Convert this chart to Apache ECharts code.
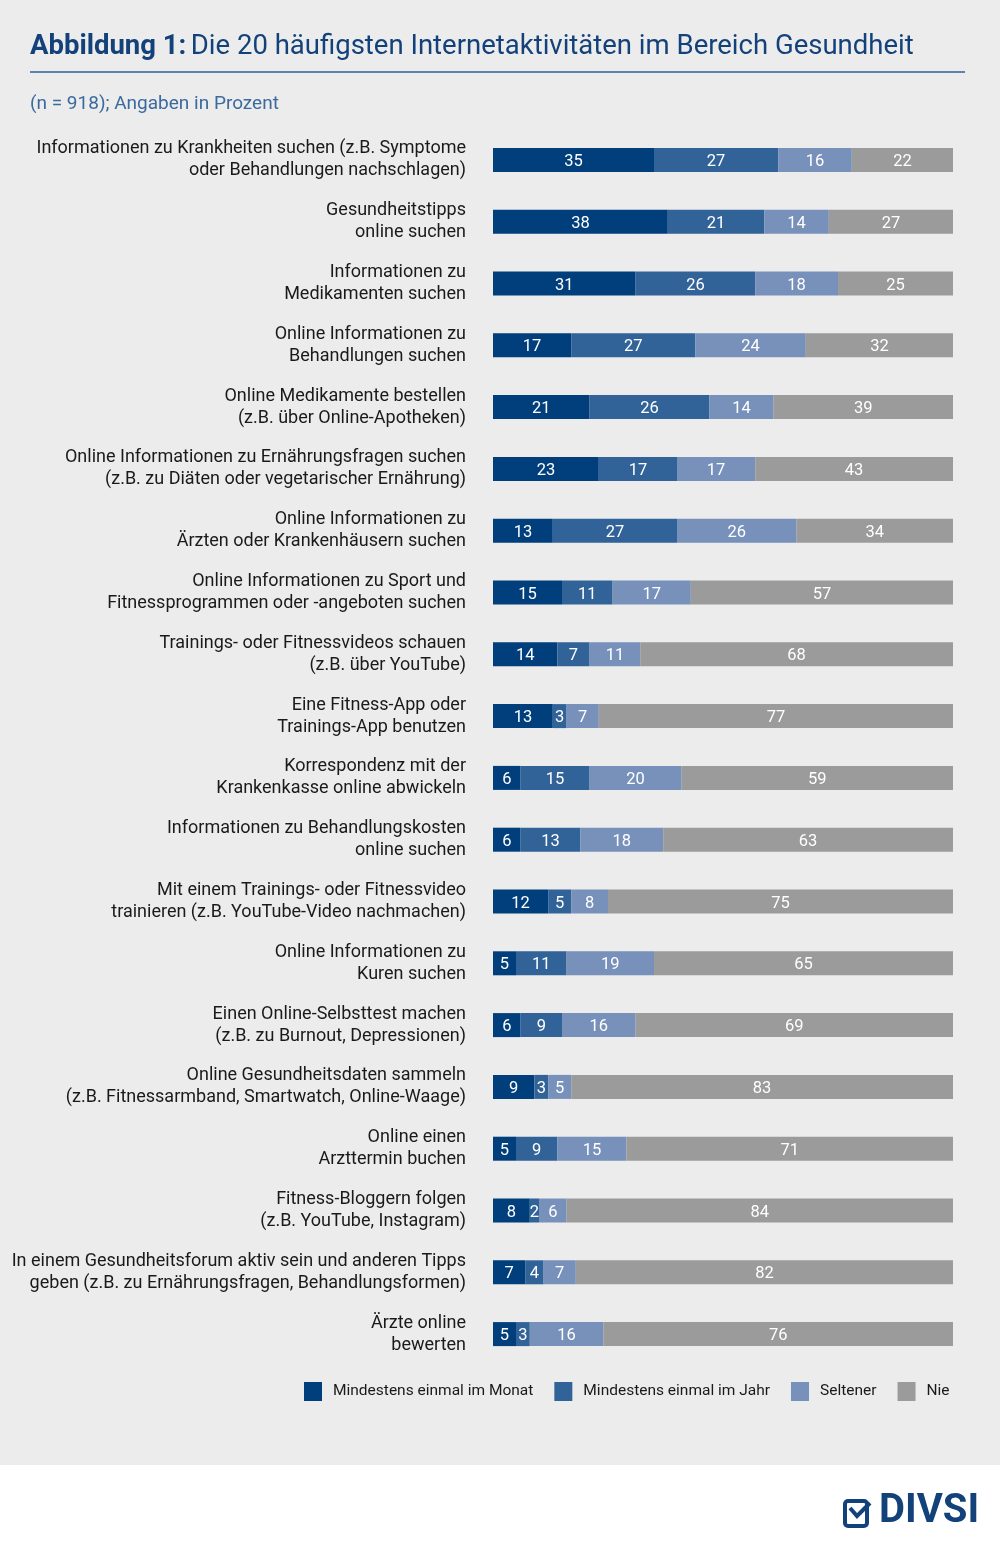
<!DOCTYPE html>
<html>
<head>
<meta charset="utf-8">
<script src="https://cdn.jsdelivr.net/npm/echarts@6/dist/echarts.min.js"></script>
<style>
html, body { margin: 0; padding: 0; background: #fff; }
#chart { width: 1000px; height: 1548px; }
</style>
</head>
<body>
<div id="chart"></div>
<script>
var kategorien = [
    'Informationen zu Krankheiten suchen (z.B. Symptome\noder Behandlungen nachschlagen)',
    'Gesundheitstipps\nonline suchen',
    'Informationen zu\nMedikamenten suchen',
    'Online Informationen zu\nBehandlungen suchen',
    'Online Medikamente bestellen\n(z.B. über Online-Apotheken)',
    'Online Informationen zu Ernährungsfragen suchen\n(z.B. zu Diäten oder vegetarischer Ernährung)',
    'Online Informationen zu\nÄrzten oder Krankenhäusern suchen',
    'Online Informationen zu Sport und\nFitnessprogrammen oder -angeboten suchen',
    'Trainings- oder Fitnessvideos schauen\n(z.B. über YouTube)',
    'Eine Fitness-App oder\nTrainings-App benutzen',
    'Korrespondenz mit der\nKrankenkasse online abwickeln',
    'Informationen zu Behandlungskosten\nonline suchen',
    'Mit einem Trainings- oder Fitnessvideo\ntrainieren (z.B. YouTube-Video nachmachen)',
    'Online Informationen zu\nKuren suchen',
    'Einen Online-Selbsttest machen\n(z.B. zu Burnout, Depressionen)',
    'Online Gesundheitsdaten sammeln\n(z.B. Fitnessarmband, Smartwatch, Online-Waage)',
    'Online einen\nArzttermin buchen',
    'Fitness-Bloggern folgen\n(z.B. YouTube, Instagram)',
    'In einem Gesundheitsforum aktiv sein und anderen Tipps\ngeben (z.B. zu Ernährungsfragen, Behandlungsformen)',
    'Ärzte online\nbewerten'
];
var monat   = [35, 38, 31, 17, 21, 23, 13, 15, 14, 13, 6, 6, 12, 5, 6, 9, 5, 8, 7, 5];
var jahr    = [27, 21, 26, 27, 26, 17, 27, 11, 7, 3, 15, 13, 5, 11, 9, 3, 9, 2, 4, 3];
var seltener = [16, 14, 18, 24, 14, 17, 26, 17, 11, 7, 20, 18, 8, 19, 16, 5, 15, 6, 7, 16];
var nie     = [22, 27, 25, 32, 39, 43, 34, 57, 68, 77, 59, 63, 75, 65, 69, 83, 71, 84, 82, 76];

var reihen = [
    { name: 'Mindestens einmal im Monat', data: monat, farbe: '#003f7b' },
    { name: 'Mindestens einmal im Jahr', data: jahr, farbe: '#326398' },
    { name: 'Seltener', data: seltener, farbe: '#7791bb' },
    { name: 'Nie', data: nie, farbe: '#9b9b9c' }
];

var schrift = 'Roboto';
var chart = echarts.init(document.getElementById('chart'), null, { renderer: 'canvas' });

var option = {
    backgroundColor: '#ffffff',
    animation: false,
    textStyle: { fontFamily: schrift },
    title: {
        left: 30,
        top: 33,
        padding: 0,
        text: '{b|Abbildung 1:} {n|Die 20 häufigsten Internetaktivitäten im Bereich Gesundheit}',
        textStyle: {
            rich: {
                b: { fontFamily: schrift, fontSize: 27.5, fontWeight: 'bold', color: '#13427a' },
                n: { fontFamily: schrift, fontSize: 27.5, fontWeight: 'normal', color: '#13427a' }
            }
        },
        subtext: '(n = 918); Angaben in Prozent',
        itemGap: 34,
        subtextStyle: { fontFamily: schrift, fontSize: 19, color: '#3a6a9e' }
    },
    graphic: [
        { type: 'rect', z: -10, shape: { x: 0, y: 0, width: 1000, height: 1465 }, style: { fill: '#ececec' } },
        { type: 'line', shape: { x1: 30, y1: 72, x2: 965, y2: 72 }, style: { stroke: '#2f5f96', lineWidth: 1.5 } },
        { type: 'rect', shape: { x: 845, y: 1501, width: 22, height: 25, r: 3 }, style: { fill: 'none', stroke: '#13427a', lineWidth: 4 } },
        { type: 'polyline', shape: { points: [[850, 1508], [857, 1516], [870, 1503]] }, style: { fill: 'none', stroke: '#13427a', lineWidth: 4 } },
        { type: 'text', left: 879, top: 1492, style: { text: 'DIVSI', fontFamily: schrift, fontSize: 40, fontWeight: 'bold', fill: '#13427a' } }
    ],
    legend: {
        left: 299,
        top: 1377,
        icon: 'rect',
        itemWidth: 18,
        itemHeight: 19,
        itemGap: 21,
        textStyle: { fontFamily: schrift, fontSize: 15.5, color: '#1a1a1a', padding: [0, 0, 0, 6] },
        data: reihen.map(function (r) { return r.name; })
    },
    grid: {
        left: 493,
        width: 460,
        top: 129,
        height: 1236
    },
    xAxis: {
        type: 'value',
        min: 0,
        max: 100,
        show: false
    },
    yAxis: {
        type: 'category',
        inverse: true,
        data: kategorien,
        axisLine: { show: false },
        axisTick: { show: false },
        axisLabel: {
            margin: 27,
            fontFamily: schrift,
            fontSize: 18,
            lineHeight: 22,
            color: '#1a1a1a',
            align: 'right'
        }
    },
    series: reihen.map(function (r) {
        return {
            name: r.name,
            type: 'bar',
            stack: 'gesamt',
            barWidth: 24,
            data: r.data,
            itemStyle: { color: r.farbe },
            label: {
                show: true,
                position: 'inside',
                offset: [0, 2],
                color: '#ffffff',
                fontFamily: schrift,
                fontSize: 16.5
            }
        };
    })
};

chart.setOption(option);
window.addEventListener('resize', chart.resize);
</script>
</body>
</html>
